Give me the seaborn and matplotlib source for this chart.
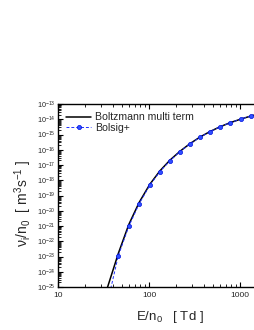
import numpy as np
import pandas as pd
import matplotlib
matplotlib.use("Agg")
import matplotlib.pyplot as plt
import matplotlib.ticker as mticker
import seaborn as sns

# Boltzmann multi term (solid black)
bmt_E = [35, 46, 60, 78, 102, 132, 170, 219, 282, 363, 467, 600, 776, 1020, 1320, 1600]
bmt_logk = [-25.02, -22.80, -20.90, -19.45, -18.27, -17.38, -16.68, -16.10, -15.60, -15.17,
            -14.81, -14.50, -14.23, -13.99, -13.787, -13.65]

# Bolsig+ (blue dashed with markers)
bol_E = [38, 46, 60, 78, 102, 132, 170, 219, 282, 363, 467, 600, 776, 1020, 1320]
bol_logk = [-25.1, -22.95, -21.02, -19.54, -18.33, -17.43, -16.72, -16.12, -15.62, -15.18,
            -14.82, -14.50, -14.23, -13.99, -13.787]

xtick_vals = [10, 100, 1000]
xtick_labels = ["10", "100", "1000"]
series_names = ["Boltzmann multi term", "Bolsig+"]

df_b = pd.DataFrame({"E": bmt_E, "k": [10.0 ** v for v in bmt_logk], "s": series_names[0]})
df_p = pd.DataFrame({"E": bol_E, "k": [10.0 ** v for v in bol_logk], "s": series_names[1]})

sns.set_style("ticks")
plt.rcParams["font.family"] = ["Liberation Sans", "DejaVu Sans"]
plt.rcParams["mathtext.fontset"] = "custom"
plt.rcParams["mathtext.rm"] = "Liberation Sans"
plt.rcParams["mathtext.it"] = "Liberation Sans:italic"
plt.rcParams["mathtext.default"] = "regular"

fig = plt.figure(figsize=(2.55, 3.30), dpi=100)
W, H = 255.0, 330.0
left, right, top, bottom = 58, 284, 104, 287
ax = fig.add_axes([left / W, 1 - bottom / H, (right - left) / W, (bottom - top) / H])

sns.lineplot(data=df_b, x="E", y="k", ax=ax, color="black", lw=1.1,
             label=series_names[0], sort=False, estimator=None)
sns.lineplot(data=df_p, x="E", y="k", ax=ax, color="#2030ff", lw=0.7,
             linestyle=(0, (3, 2)), marker="o", markersize=3.0,
             markerfacecolor="#3050ff", markeredgecolor="#0010dd", markeredgewidth=0.5,
             label=series_names[1], sort=False, estimator=None)

ax.set_xscale("log")
ax.set_yscale("log")
ax.set_xlim(10, 10 ** (1 + (right - left) / 91.0))
ax.set_ylim(1e-25, 1e-13)

ax.set_xticks(xtick_vals)
ax.set_xticklabels(xtick_labels)
ax.xaxis.set_minor_locator(mticker.LogLocator(base=10, subs=np.arange(2, 10), numticks=20))
ax.xaxis.set_minor_formatter(mticker.NullFormatter())
ax.yaxis.set_major_locator(mticker.LogLocator(base=10, numticks=20))
ax.yaxis.set_minor_locator(mticker.LogLocator(base=10, subs=np.arange(2, 10), numticks=40))
ax.yaxis.set_minor_formatter(mticker.NullFormatter())

ax.tick_params(axis="both", which="major", direction="in", length=3.5, width=0.8,
               top=True, right=False, labelsize=6, pad=3.5, color="black")
ax.tick_params(axis="both", which="minor", direction="in", length=2, width=0.6,
               top=True, right=False, color="black")
ax.tick_params(axis="y", which="major", labelsize=5.2, pad=1.5)

for side in ["left", "bottom", "top"]:
    ax.spines[side].set_linewidth(1.0)
    ax.spines[side].set_color("black")
ax.spines["right"].set_visible(False)

ax.set_xlabel("E/n$_\\mathrm{0}$   [ Td ]", fontsize=9.5)
ax.set_ylabel("ν$_\\mathrm{i}$/n$_\\mathrm{0}$  [ m$^\\mathrm{3}$s$^\\mathrm{-1}$ ]", fontsize=10)
ax.xaxis.set_label_coords((170 - left) / (right - left), -(317 - bottom) / (bottom - top))
ax.yaxis.set_label_coords(-(left - 23) / (right - left), (bottom - 203) / (bottom - top))
ax.xaxis.label.set_va("center")
ax.yaxis.label.set_va("center")

leg = ax.legend(loc="upper left", bbox_to_anchor=(0.0, 1.0), frameon=False,
                fontsize=7.6, handlelength=2.3, handletextpad=0.4, labelspacing=0.05,
                borderaxespad=0.4)

fig.savefig("out.png", dpi=100)
